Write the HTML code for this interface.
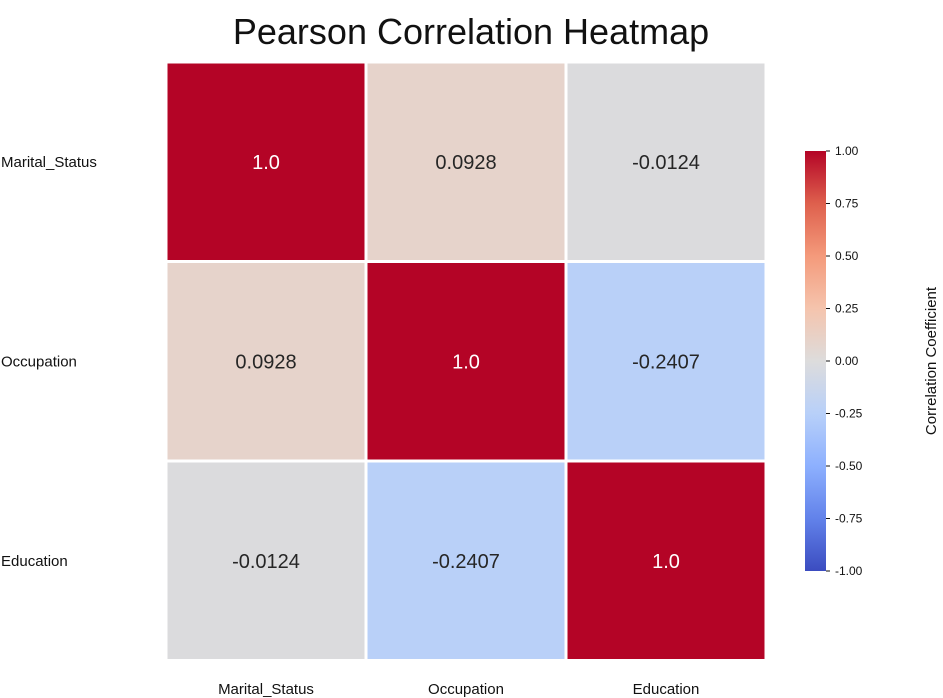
<!DOCTYPE html>
<html><head><meta charset="utf-8"><style>
body{margin:0;background:#fff;}
svg{display:block;font-family:"Liberation Sans","DejaVu Sans",sans-serif;}
</style></head><body>
<svg id="chart" width="943" height="698">
<defs>
<linearGradient id="cbgrad" x1="0" y1="1" x2="0" y2="0">
<stop offset="0" stop-color="rgb(59,76,192)"/><stop offset="0.125" stop-color="rgb(98,130,234)"/>
<stop offset="0.25" stop-color="rgb(141,176,254)"/><stop offset="0.375" stop-color="rgb(184,208,249)"/>
<stop offset="0.5" stop-color="rgb(221,220,220)"/><stop offset="0.625" stop-color="rgb(245,196,173)"/>
<stop offset="0.75" stop-color="rgb(244,154,123)"/><stop offset="0.875" stop-color="rgb(222,96,77)"/>
<stop offset="1" stop-color="rgb(180,4,38)"/>
</linearGradient>
</defs>
<text x="471" y="44" text-anchor="middle" font-size="36" fill="#111">Pearson Correlation Heatmap</text>
<g id="cells"></g>
<rect x="805" y="151" width="21" height="420" fill="url(#cbgrad)"/>
<g id="cbticks"></g>
<text transform="translate(936,361) rotate(-90)" text-anchor="middle" font-size="15" fill="#111">Correlation Coefficient</text>
</svg>
<script>
const categories = ["Marital_Status","Occupation","Education"];
const row0 = [1.0, 0.0928, -0.0124];
const row1 = [0.0928, 1.0, -0.2407];
const row2 = [-0.0124, -0.2407, 1.0];
const labels0 = ["1.0","0.0928","-0.0124"];
const labels1 = ["0.0928","1.0","-0.2407"];
const labels2 = ["-0.0124","-0.2407","1.0"];
const cbTicks = [1.00,0.75,0.50,0.25,0.00,-0.25,-0.50,-0.75,-1.00];

const NS="http://www.w3.org/2000/svg";
const rows=[row0,row1,row2], labs=[labels0,labels1,labels2];
const gLeft=166, gTop=62, cw=200, ch=199.5;
const stops=[[59,76,192],[98,130,234],[141,176,254],[184,208,249],[221,220,220],[245,196,173],[244,154,123],[222,96,77],[180,4,38]];
function cmap(v){let t=(Math.max(-1,Math.min(1,v))+1)/2*8;let i=Math.min(7,Math.floor(t));let f=t-i;
 const a=stops[i],b=stops[i+1];return [0,1,2].map(k=>Math.round(a[k]+(b[k]-a[k])*f));}
function xS(j){return gLeft+j*cw;} function yS(i){return gTop+i*ch;}
function cbY(v){return 151+(1-v)/2*420;}
const g=document.getElementById('cells');
rows.forEach((r,i)=>r.forEach((v,j)=>{
 const c=cmap(v);
 const rect=document.createElementNS(NS,'rect');
 rect.setAttribute('x',xS(j));rect.setAttribute('y',yS(i));rect.setAttribute('width',cw);rect.setAttribute('height',ch);
 rect.setAttribute('fill','rgb('+c.join(',')+')');rect.setAttribute('stroke','#fff');rect.setAttribute('stroke-width','3');
 
 
 g.appendChild(rect);
 const lum=0.299*c[0]+0.587*c[1]+0.114*c[2];
 const t=document.createElementNS(NS,'text');
 t.setAttribute('x',xS(j)+cw/2);t.setAttribute('y',yS(i)+ch/2+7);t.setAttribute('text-anchor','middle');
 t.setAttribute('font-size','20');t.setAttribute('fill',lum<128?'#fff':'#262626');
 t.textContent=labs[i][j];
 
 
 g.appendChild(t);
}));
categories.forEach((c,i)=>{
 const t=document.createElementNS(NS,'text');
 t.setAttribute('x',1);t.setAttribute('y',yS(i)+ch/2+5);t.setAttribute('font-size','15');t.setAttribute('fill','#111');
 t.textContent=c;
 
 
 g.appendChild(t);
 const x=document.createElementNS(NS,'text');
 x.setAttribute('x',xS(i)+cw/2);x.setAttribute('y',694);x.setAttribute('text-anchor','middle');x.setAttribute('font-size','15');x.setAttribute('fill','#111');
 x.textContent=c;
 
 
 g.appendChild(x);
});
const cb=document.getElementById('cbticks');
cbTicks.forEach(v=>{
 const y=cbY(v);
 const l=document.createElementNS(NS,'line');
 l.setAttribute('x1',826);l.setAttribute('x2',830);l.setAttribute('y1',y);l.setAttribute('y2',y);l.setAttribute('stroke','#111');
 
 
 cb.appendChild(l);
 const t=document.createElementNS(NS,'text');
 t.setAttribute('x',835);t.setAttribute('y',y+4);t.setAttribute('font-size','12');t.setAttribute('fill','#111');
 t.textContent=v.toFixed(2);
 
 
 cb.appendChild(t);
});
</script>
</body></html>
